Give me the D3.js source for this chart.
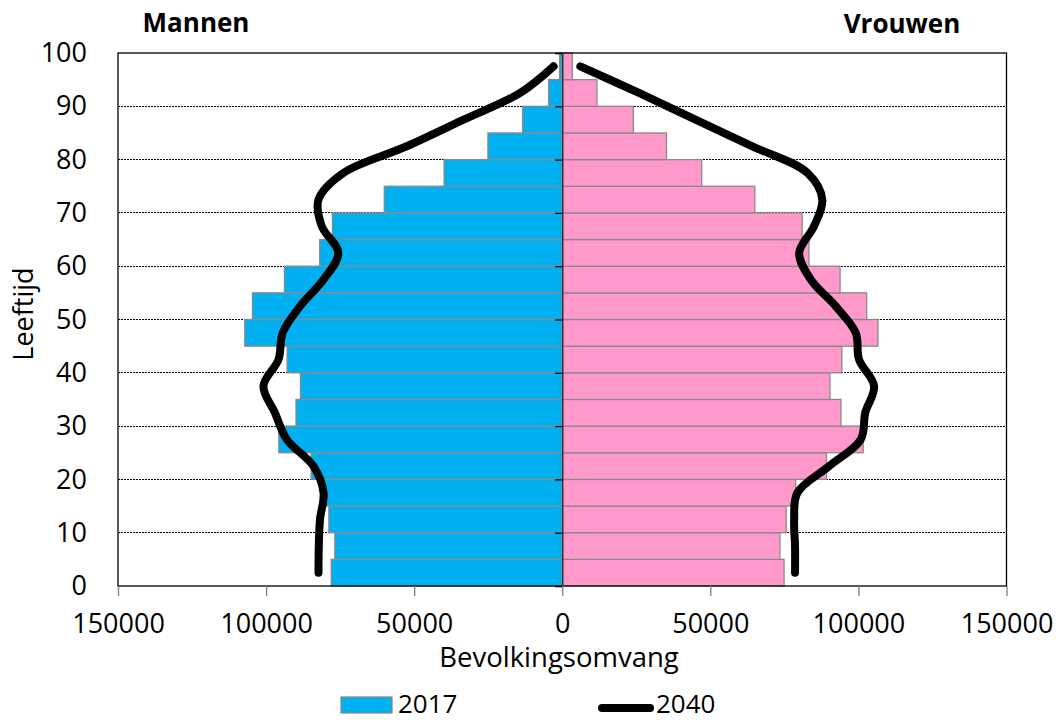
<!DOCTYPE html>
<html>
<head>
<meta charset="utf-8">
<script src="https://cdn.jsdelivr.net/npm/d3@7"></script>
<style>
  html, body { margin: 0; padding: 0; background: #fff; }
  svg { display: block; font-family: "Open Sans", sans-serif; }
</style>
</head>
<body>
<svg id="chart" width="1062" height="720"></svg>
<script>
// ---- data ----
const ageStarts = [0,5,10,15,20,25,30,35,40,45,50,55,60,65,70,75,80,85,90,95];
const men2017   = [78000,76800,78800,81000,84800,95700,89900,88400,92900,107200,104600,93800,81900,77600,60100,39900,25100,13400,4600,900];
const women2017 = [74900,73500,75600,78800,89200,101600,94100,90400,94400,106600,102800,93800,83300,81000,65000,47100,35200,24000,11700,3400];
const men2040   = [82300,82200,81800,80600,84000,93000,97000,100900,95800,94400,88500,80600,75600,81200,82300,73900,52500,33300,14200,2900];
const women2040 = [78600,78600,78300,79400,90100,100800,102300,105300,100200,99100,92300,83900,80000,85000,87800,82800,64200,45000,25900,6100];
const xTicks = [-150000,-100000,-50000,0,50000,100000,150000];
const yTicks = [0,10,20,30,40,50,60,70,80,90,100];
const labels = { men: "Mannen", women: "Vrouwen", xTitle: "Bevolkingsomvang", yTitle: "Leeftijd", s2017: "2017", s2040: "2040" };

// ---- layout ----
const svg = d3.select("#chart");
const L = 118, R = 1006.5, T = 53, B = 586;
const x = d3.scaleLinear().domain([-150000,150000]).range([L,R]);
const y = d3.scaleLinear().domain([0,100]).range([B,T]);
const blue = "#00B0F0", pink = "#FF99CC", edge = "#8a8a8a";

// gridlines (dotted)
svg.append("g").selectAll("line").data(yTicks.filter(d => d > 0 && d < 100)).join("line")
  .attr("x1", L).attr("x2", R).attr("y1", d => y(d)).attr("y2", d => y(d))
  .attr("stroke", "#000").attr("stroke-width", 1).attr("stroke-dasharray", "2,1")
  .attr("shape-rendering", "crispEdges");

// bars
const bars = svg.append("g");
bars.selectAll("rect.m").data(ageStarts).join("rect").attr("class","m")
  .attr("x", (d,i) => x(-men2017[i])).attr("width", (d,i) => x(0) - x(-men2017[i]))
  .attr("y", d => y(d+5)).attr("height", d => y(d) - y(d+5))
  .attr("fill", blue).attr("stroke", edge).attr("stroke-width", 1.3);
bars.selectAll("rect.w").data(ageStarts).join("rect").attr("class","w")
  .attr("x", x(0)).attr("width", (d,i) => x(women2017[i]) - x(0))
  .attr("y", d => y(d+5)).attr("height", d => y(d) - y(d+5))
  .attr("fill", pink).attr("stroke", edge).attr("stroke-width", 1.3);

// plot border
svg.append("rect").attr("x", L).attr("y", T).attr("width", R-L).attr("height", B-T)
  .attr("fill", "none").attr("stroke", "#000").attr("stroke-width", 1.3);

// center vertical axis with ticks
const cAxis = d3.axisLeft(y).tickValues(yTicks).tickSize(7).tickFormat("");
svg.append("g").attr("transform", `translate(${x(0)},0)`).call(cAxis)
  .call(g => g.select(".domain").attr("stroke", "#333").attr("stroke-width", 1.5))
  .call(g => g.selectAll(".tick line").attr("stroke", "#000").attr("stroke-width", 1.3));

// left y labels
const yAxis = d3.axisLeft(y).tickValues(yTicks).tickSize(0).tickPadding(31);
svg.append("g").attr("transform", `translate(${L},0)`).call(yAxis)
  .call(g => g.select(".domain").remove())
  .call(g => g.selectAll("text").attr("font-size", 27).attr("font-family", "Open Sans").attr("fill", "#000"));

// bottom x axis
const xAxis = d3.axisBottom(x).tickValues(xTicks).tickSize(10).tickPadding(18)
  .tickFormat(d => String(Math.abs(d)));
svg.append("g").attr("transform", `translate(0,${B})`).call(xAxis)
  .call(g => g.select(".domain").remove())
  .call(g => g.selectAll(".tick line").attr("stroke", "#7f7f7f").attr("stroke-width", 1.3))
  .call(g => g.selectAll("text").attr("font-size", 27).attr("font-family", "Open Sans").attr("fill", "#000"));

// 2040 lines
const line = d3.line().curve(d3.curveCatmullRom.alpha(0.5));
const mids = ageStarts.map(a => a + 2.5);
svg.append("path").attr("d", line(mids.map((a,i) => [x(-men2040[i]), y(a)])))
  .attr("fill", "none").attr("stroke", "#000").attr("stroke-width", 8)
  .attr("stroke-linecap", "round").attr("stroke-linejoin", "round");
svg.append("path").attr("d", line(mids.map((a,i) => [x(women2040[i]), y(a)])))
  .attr("fill", "none").attr("stroke", "#000").attr("stroke-width", 8)
  .attr("stroke-linecap", "round").attr("stroke-linejoin", "round");

// titles
svg.append("text").attr("x", 196).attr("y", 32).attr("text-anchor", "middle")
  .attr("font-size", 26).attr("font-weight", "bold").text(labels.men);
svg.append("text").attr("x", 902).attr("y", 33).attr("text-anchor", "middle")
  .attr("font-size", 26).attr("font-weight", "bold").text(labels.women);
svg.append("text").attr("x", 559).attr("y", 667).attr("text-anchor", "middle")
  .attr("font-size", 27.5).text(labels.xTitle);
svg.append("text").attr("transform", "translate(33,314) rotate(-90)").attr("text-anchor", "middle")
  .attr("font-size", 27).text(labels.yTitle);

// legend
const lg = svg.append("g");
lg.append("rect").attr("x", 341).attr("y", 697).attr("width", 51).attr("height", 16)
  .attr("fill", blue).attr("stroke", edge).attr("stroke-width", 1.3);
lg.append("text").attr("x", 398).attr("y", 713).attr("font-size", 26).text(labels.s2017);
lg.append("line").attr("x1", 602).attr("x2", 650).attr("y1", 708).attr("y2", 708)
  .attr("stroke", "#000").attr("stroke-width", 8).attr("stroke-linecap", "round");
lg.append("text").attr("x", 656).attr("y", 713).attr("font-size", 26).text(labels.s2040);
</script>
</body>
</html>
